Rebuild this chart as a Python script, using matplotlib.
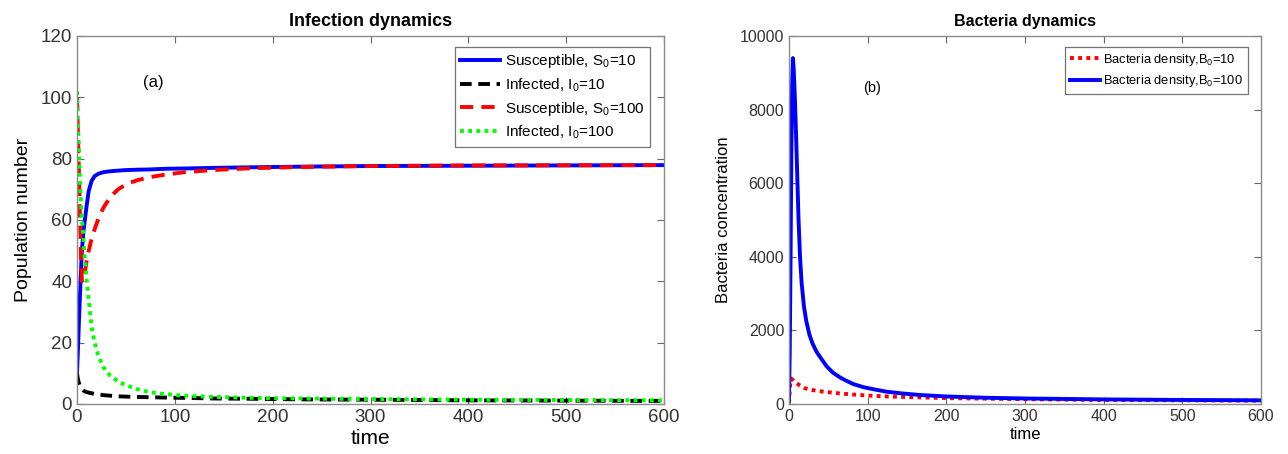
import matplotlib
matplotlib.use("Agg")
import matplotlib.pyplot as plt

plt.rcParams["font.family"] = ["Liberation Sans", "DejaVu Sans"]
plt.rcParams["mathtext.fontset"] = "custom"
plt.rcParams["mathtext.rm"] = "Liberation Sans"

# ---- panel (a): infection dynamics ----
t_inf = [0, 1, 2, 3, 4, 5, 6.5, 8, 10, 12, 15, 18, 22, 27, 34, 42, 51, 62,
         75, 90, 110, 140, 180, 230, 300, 400, 500, 600]
sus_10 = [10, 18, 27, 35, 43, 50, 56, 60, 65, 69.5, 72.8, 74.3, 75.1, 75.6,
          75.9, 76.1, 76.3, 76.4, 76.5, 76.7, 76.8, 77.0, 77.2, 77.4, 77.6,
          77.7, 77.8, 77.9]
inf_10 = [10, 8, 6.8, 5.8, 5.2, 4.8, 4.4, 4.1, 3.9, 3.7, 3.5, 3.3, 3.1, 2.9,
          2.7, 2.5, 2.4, 2.3, 2.2, 2.1, 2.0, 1.8, 1.7, 1.5, 1.4, 1.2, 1.1, 1.0]
sus_100 = [100, 88, 75, 62, 49, 40, 41, 43, 47, 50, 54, 57, 60.5, 64, 67.5,
           70, 71.8, 73, 74, 74.8, 75.6, 76.3, 76.9, 77.3, 77.6, 77.8, 77.85,
           77.9]
inf_100 = [102, 92, 82, 73, 66, 60, 55, 47, 40, 34, 25, 20, 15.5, 12, 9.2,
           7.3, 6, 4.8, 3.8, 3.2, 2.7, 2.3, 2.0, 1.8, 1.6, 1.4, 1.3, 1.2]

# ---- panel (b): bacteria dynamics ----
t_bac_10 = [0, 1, 2, 3, 5, 7, 10, 14, 20, 27, 35, 42, 50, 65, 80, 100, 125,
            150, 200, 250, 300, 400, 500, 600]
bac_10 = [10, 400, 650, 690, 650, 600, 560, 500, 430, 390, 360, 340, 320,
          285, 260, 230, 205, 190, 160, 145, 130, 110, 100, 90]
t_bac_100 = [0, 1, 2, 3, 4, 5, 6, 7.5, 9, 10.5, 12, 14, 16, 19, 22, 26, 30,
             35, 42, 48, 56, 65, 72, 82, 95, 110, 124, 145, 166, 200, 250,
             300, 400, 500, 600]
bac_100 = [100, 1500, 4000, 6800, 8700, 9400, 9100, 8300, 7300, 6200, 5100,
           4000, 3300, 2650, 2250, 1880, 1640, 1420, 1200, 1020, 850, 720,
           640, 540, 455, 390, 334, 285, 245, 205, 170, 150, 125, 110, 100]

W, H = 1288, 454
fig = plt.figure(figsize=(W / 100, H / 100), dpi=100)
ax1 = fig.add_axes([77 / W, 1 - 404 / H, (664 - 77) / W, (404 - 36) / H])
ax2 = fig.add_axes([789 / W, 1 - 404 / H, (1261 - 789) / W, (404 - 36) / H])


def style_axes(ax, fs):
    for sp in ax.spines.values():
        sp.set_color("0.55")
        sp.set_linewidth(1.0)
    ax.tick_params(direction="in", top=True, right=True, length=5,
                   width=0.8, color="0.4", labelsize=fs, labelcolor="0.2")


# panel (a)
l1, = ax1.plot(t_inf, sus_10, color="blue", lw=2.8,
               label=r"Susceptible, S$_{\mathregular{0}}$=10")
l2, = ax1.plot(t_inf, inf_10, color="black", lw=2.8, ls="--",
               label=r"Infected, I$_{\mathregular{0}}$=10")
l2.set_dashes((3.0, 1.7))
l3, = ax1.plot(t_inf, sus_100, color="red", lw=2.8, ls="--",
               label=r"Susceptible, S$_{\mathregular{0}}$=100")
l3.set_dashes((3.4, 2.1))
l4, = ax1.plot(t_inf, inf_100, color="#00ff00", lw=2.8, ls=":",
               label=r"Infected, I$_{\mathregular{0}}$=100")
l4.set_dashes((1, 1.1))

ax1.set_xlim(0, 600)
ax1.set_ylim(0, 120)
ax1.set_xticks(range(0, 601, 100))
ax1.set_yticks(range(0, 121, 20))
style_axes(ax1, 13.5)
ax1.set_title("Infection dynamics", fontsize=13, fontweight="bold", pad=7)
ax1.set_xlabel("time", fontsize=15, labelpad=2)
ax1.set_ylabel("Population number", fontsize=14, labelpad=6)
ax1.text(78, 105, "(a)", fontsize=12, ha="center", va="center")
leg1 = ax1.legend(loc="upper right", bbox_to_anchor=(0.976, 0.97),
                  borderaxespad=0, fontsize=11, handlelength=2.6,
                  handletextpad=0.3, labelspacing=0.38, fancybox=False,
                  edgecolor="0.45", framealpha=1, borderpad=0.35)
leg1.get_frame().set_linewidth(0.9)

# panel (b)
r1, = ax2.plot(t_bac_10, bac_10, color="red", lw=2.8, ls=":",
               label=r"Bacteria density,B$_{\mathregular{0}}$=10")
r1.set_dashes((1, 1.1))
ax2.plot(t_bac_100, bac_100, color="blue", lw=2.8,
         label=r"Bacteria density,B$_{\mathregular{0}}$=100")

ax2.set_xlim(0, 600)
ax2.set_ylim(0, 10000)
ax2.set_xticks(range(0, 601, 100))
ax2.set_yticks(range(0, 10001, 2000))
style_axes(ax2, 11.5)
ax2.set_title("Bacteria dynamics", fontsize=11.5, fontweight="bold", pad=7)
ax2.set_xlabel("time", fontsize=12, labelpad=2)
ax2.set_ylabel("Bacteria concentration", fontsize=12, labelpad=6)
ax2.text(106, 8600, "(b)", fontsize=10.5, ha="center", va="center")
leg2 = ax2.legend(loc="upper right", bbox_to_anchor=(0.972, 0.97),
                  borderaxespad=0, fontsize=9.3, handlelength=2.3,
                  handletextpad=0.3, labelspacing=0.45, fancybox=False,
                  edgecolor="0.45", framealpha=1, borderpad=0.35)
leg2.get_frame().set_linewidth(0.9)

fig.savefig("out.png", dpi=100)
